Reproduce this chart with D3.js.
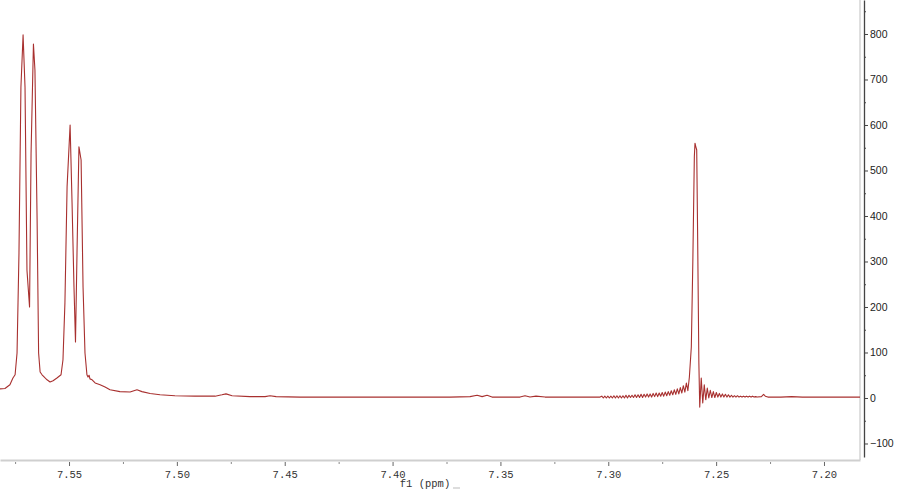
<!DOCTYPE html>
<html>
<head>
<meta charset="utf-8">
<script src="https://cdn.jsdelivr.net/npm/d3@7"></script>
<style>
  html, body { margin: 0; padding: 0; background: #fff; overflow: hidden; }
  svg { display: block; }
</style>
</head>
<body>
<svg id="chart" width="900" height="491"></svg>
<script>
// ---- Data (chemical shift in ppm, intensity) ----
const ppm = [
  7.5820, 7.5797, 7.5774, 7.5760, 7.5750, 7.5741, 7.5732, 7.5723, 7.5713, 7.5704,
  7.5695, 7.5683, 7.5676, 7.5665, 7.5658, 7.5648, 7.5641, 7.5634, 7.5625, 7.5611,
  7.5602, 7.5588, 7.5574, 7.5556, 7.5537, 7.5528, 7.5519, 7.5509, 7.5495, 7.5486,
  7.5477, 7.5470, 7.5463, 7.5454, 7.5444, 7.5435, 7.5426, 7.5417, 7.5412, 7.5407,
  7.5403, 7.5393, 7.5379, 7.5356, 7.5333, 7.5310, 7.5264, 7.5217, 7.5185, 7.5162,
  7.5124, 7.5078, 7.5009, 7.4916, 7.4823, 7.4791, 7.4772, 7.4744, 7.4661, 7.4591,
  7.4568, 7.4540, 7.4429, 7.4197, 7.3965, 7.3734, 7.3641, 7.3608, 7.3585, 7.3562,
  7.3539, 7.3409, 7.3386, 7.3363, 7.3335, 7.3293, 7.3131, 7.3038,
  7.3030, 7.3023, 7.3016, 7.3009, 7.3002, 7.2995, 7.2988, 7.2981, 7.2974, 7.2967,
  7.2960, 7.2953, 7.2946, 7.2939, 7.2932, 7.2925, 7.2918, 7.2911, 7.2904, 7.2897,
  7.2890, 7.2883, 7.2876, 7.2869, 7.2862, 7.2855, 7.2848, 7.2841, 7.2834, 7.2827,
  7.2820, 7.2813, 7.2806, 7.2799, 7.2792, 7.2785, 7.2778, 7.2771, 7.2764, 7.2757,
  7.2750, 7.2743, 7.2736, 7.2729, 7.2722, 7.2715, 7.2708, 7.2701, 7.2694, 7.2687,
  7.2680, 7.2673, 7.2666, 7.2659, 7.2652, 7.2645, 7.2638, 7.2631, 7.2624,
  7.2615, 7.2608, 7.2601, 7.2598, 7.2594, 7.2590, 7.2586, 7.2580, 7.2576, 7.2569,
  7.2562, 7.2555, 7.2548, 7.2541, 7.2534, 7.2527, 7.2520, 7.2513, 7.2506, 7.2499,
  7.2492, 7.2485, 7.2478, 7.2471, 7.2464, 7.2457, 7.2450, 7.2443, 7.2436, 7.2429,
  7.2422, 7.2415, 7.2408, 7.2401, 7.2394, 7.2387, 7.2380, 7.2373, 7.2366, 7.2359,
  7.2352, 7.2345, 7.2338, 7.2331, 7.2324, 7.2317, 7.2310, 7.2290, 7.2280, 7.2272,
  7.2260, 7.2200, 7.2150, 7.2100, 7.2000, 7.1900, 7.1830
];
const intensity = [
  20, 21, 29, 44, 51, 99, 319, 683, 798, 683,
  281, 200, 538, 778, 721, 391, 99, 57, 51, 44,
  40, 35, 38, 44, 51, 84, 209, 464, 600, 429,
  244, 123, 319, 552, 523, 244, 99, 51, 46, 50,
  42, 40, 33, 29, 24, 18, 14, 13, 18, 14,
  10, 7, 5, 4, 4, 7, 9, 5, 3, 3,
  5, 3, 2, 2, 2, 2, 3, 6, 3, 6,
  2, 2, 5, 2, 4, 2, 2, 2,
  4, 0, 4, 0, 4, 0, 4, 0, 5, 0,
  5, 0, 5, 0, 5, 0, 6, 0, 6, 1,
  6, 1, 7, 1, 7, 1, 8, 1, 8, 2,
  9, 2, 9, 2, 10, 3, 11, 3, 11, 4,
  12, 4, 13, 5, 14, 6, 16, 7, 18, 8,
  20, 9, 23, 11, 27, 13, 33, 16, 46,
  112, 300, 530, 560, 552, 545, 369, 77, -20, 44,
  -11, 29, -4, 22, 0, 17, 1, 14, 1, 12,
  2, 10, 2, 9, 2, 8, 2, 7, 2, 6,
  2, 5, 2, 5, 2, 4, 2, 4, 2, 4,
  2, 4, 2, 4, 2, 3, 2, 3, 8, 4,
  2, 2, 3, 2, 2, 2, 2
];
const xMajorTicks = [7.55, 7.50, 7.45, 7.40, 7.35, 7.30, 7.25, 7.20];
const xMinorTicks = [7.575, 7.525, 7.475, 7.425, 7.375, 7.325, 7.275, 7.225];
const yMajorTicks = [-100, 0, 100, 200, 300, 400, 500, 600, 700, 800];
const yMinorTicks = [-50, 50, 150, 250, 350, 450, 550, 650, 750, 850];
const xTitle = "f1 (ppm)";

// ---- Layout ----
const svg = d3.select("#chart");
const plotRight = 860, plotBottom = 457, axisY = 460, yAxisX = 864;

const x = d3.scaleLinear().domain([7.5820, 7.1833]).range([0, plotRight]);
const y = d3.scaleLinear().domain([-129.7, 874.7]).range([plotBottom, 0]);

// clip
svg.append("defs").append("clipPath").attr("id", "clip")
  .append("rect").attr("x", 0).attr("y", 0).attr("width", plotRight).attr("height", plotBottom);

// light frame (right & bottom)
svg.append("line").attr("x1", plotRight).attr("x2", plotRight).attr("y1", 0).attr("y2", axisY)
  .attr("stroke", "#d4d4d4").attr("stroke-width", 1.5);

// spectrum line
const data = ppm.map((p, i) => [p, intensity[i]]);
svg.append("path")
  .datum(data)
  .attr("clip-path", "url(#clip)")
  .attr("fill", "none")
  .attr("stroke", "#a8302f")
  .attr("stroke-width", 1.1)
  .attr("stroke-linejoin", "round")
  .attr("d", d3.line().x(d => x(d[0])).y(d => y(d[1])));

// ---- X axis ----
const xg = svg.append("g").attr("transform", `translate(0,${axisY})`)
  .call(d3.axisBottom(x).tickValues(xMajorTicks).tickFormat(d3.format(".2f"))
    .tickSize(6).tickSizeOuter(0).tickPadding(5));
xg.select(".domain").attr("stroke", "#cfcfcf").attr("stroke-width", 2);
xg.selectAll(".tick line").attr("stroke", "#666").attr("y1", 2);
xg.selectAll(".tick text").attr("font-family", "'Liberation Mono', monospace")
  .attr("font-size", 10.5).attr("fill", "#333");

const xgm = svg.append("g").attr("transform", `translate(0,${axisY})`)
  .call(d3.axisBottom(x).tickValues(xMinorTicks).tickFormat("").tickSize(4).tickSizeOuter(0));
xgm.select(".domain").remove();
xgm.selectAll(".tick line").attr("stroke", "#888").attr("y1", 2);

svg.append("text").attr("x", 425).attr("y", 487).attr("text-anchor", "middle")
  .attr("font-family", "'Liberation Mono', monospace").attr("font-size", 10.5).attr("fill", "#333")
  .text(xTitle);
svg.append("line").attr("x1", 453).attr("x2", 460).attr("y1", 488).attr("y2", 488)
  .attr("stroke", "#bbb").attr("stroke-width", 1);

// ---- Y axis (right) ----
const yg = svg.append("g").attr("transform", `translate(${yAxisX},0)`)
  .call(d3.axisRight(y).tickValues(yMajorTicks).tickFormat(d => d < 0 ? "\u2212" + Math.abs(d) : d)
    .tickSize(4).tickSizeOuter(0).tickPadding(2));
yg.select(".domain").attr("stroke", "#444").attr("stroke-width", 1.3);
yg.selectAll(".tick line").attr("stroke", "#444");
yg.selectAll(".tick text").attr("font-family", "'Liberation Sans', Arial, sans-serif")
  .attr("font-size", 10.5).attr("fill", "#222");

const ygm = svg.append("g").attr("transform", `translate(${yAxisX},0)`)
  .call(d3.axisRight(y).tickValues(yMinorTicks).tickFormat("").tickSize(2).tickSizeOuter(0));
ygm.select(".domain").remove();
ygm.selectAll(".tick line").attr("stroke", "#444");
</script>
</body>
</html>
